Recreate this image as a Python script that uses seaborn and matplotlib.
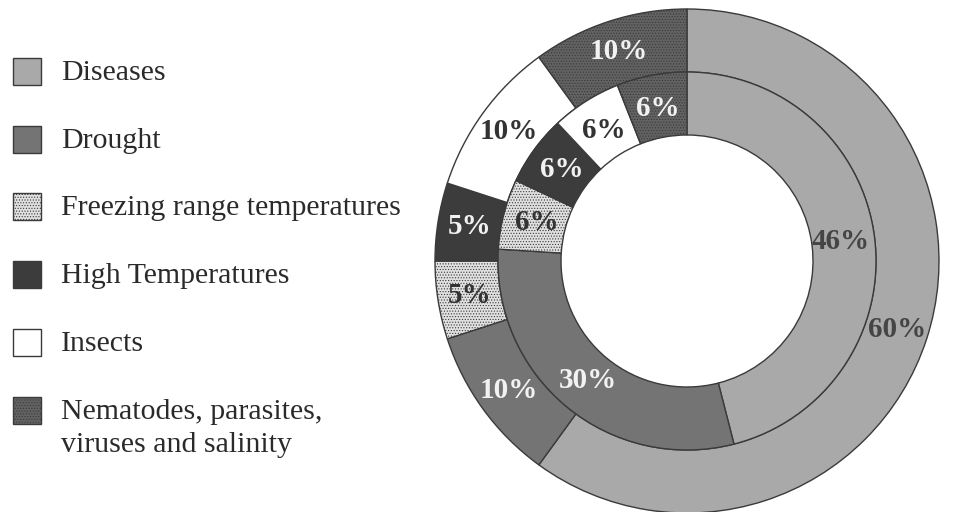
import matplotlib
matplotlib.use("Agg")
import matplotlib.pyplot as plt
import seaborn as sns
from matplotlib.patches import Rectangle

# ---- data ----
categories = ["Diseases", "Drought", "Freezing range temperatures",
              "High Temperatures", "Insects",
              "Nematodes, parasites,\nviruses and salinity"]
outer_values = [60, 10, 5, 5, 10, 10]
inner_values = [46, 30, 6, 6, 6, 6]

# ---- style ----
sns.set_theme(style="white")
plt.rcParams['font.family'] = ['Liberation Serif', 'DejaVu Serif']
plt.rcParams['hatch.linewidth'] = 0.5

fill_colors = ["#a9a9a9", "#747474", "#e0e0e0", "#3c3c3c", "#ffffff", "#626262"]
hatches = [None, None, "......", None, None, "......"]
label_colors = ["#454545", "#f2f2f2", "#333333", "#f2f2f2", "#333333", "#f2f2f2"]
edge = "#3a3a3a"

W, H = 956, 512
fig = plt.figure(figsize=(W / 100, H / 100), dpi=100)
fig.patch.set_facecolor("white")

cx, cy, R = 687, 261, 252
ax = fig.add_axes([(cx - R) / W, (H - cy - R) / H, 2 * R / W, 2 * R / H])

txt = dict(fontsize=21, fontweight="bold")
wp = dict(width=0.25, edgecolor=edge, linewidth=1.0)

ow, _, oa = ax.pie(outer_values, radius=1.0, startangle=90, counterclock=False,
                   colors=fill_colors, autopct=lambda p: f"{p:.0f}%",
                   pctdistance=0.875, wedgeprops=wp, textprops=txt)
iw, _, ia = ax.pie(inner_values, radius=0.75, startangle=90, counterclock=False,
                   colors=fill_colors, autopct=lambda p: f"{p:.0f}%",
                   pctdistance=0.82, wedgeprops=wp, textprops=txt)

for wedges, texts in ((ow, oa), (iw, ia)):
    for w, t, h, c in zip(wedges, texts, hatches, label_colors):
        if h:
            w.set_hatch(h)
        w.set_clip_on(False)
        t.set_color(c)

ax.set_xlim(-1, 1)
ax.set_ylim(-1, 1)
ax.set_aspect("equal")
ax.axis("off")

# ---- legend ----
for i, (lab, col, h) in enumerate(zip(categories, fill_colors, hatches)):
    yc = 71.5 + 67.7 * i
    rect = Rectangle((13 / W, (H - yc - 13.5) / H), 28 / W, 27 / H,
                     transform=fig.transFigure, facecolor=col, edgecolor=edge,
                     linewidth=1.0, hatch=h)
    fig.add_artist(rect)
    nlines = lab.count("\n") + 1
    ty = yc + 1.5 + (nlines - 1) * 17
    fig.text(61 / W, (H - ty) / H, lab, fontsize=21.5, color="#2a2a2a",
             va="center", ha="left", linespacing=1.35)

fig.savefig("out.png", dpi=100, facecolor="white")
